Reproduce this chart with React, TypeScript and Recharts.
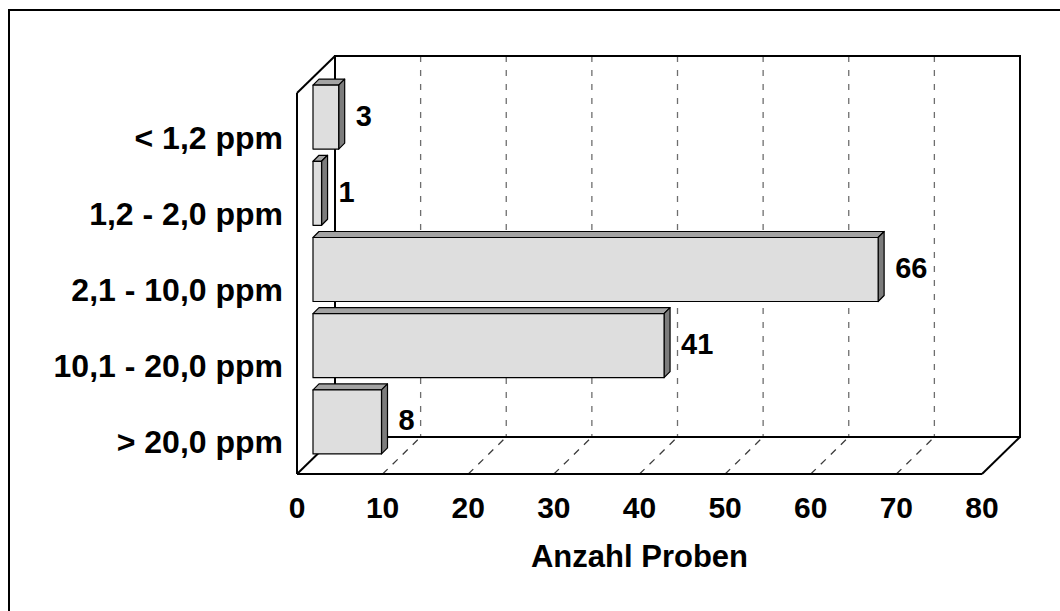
import React from "react";
import { BarChart, Bar, XAxis, YAxis, CartesianGrid, ReferenceArea } from "recharts";

const categories = ["< 1,2 ppm", "1,2 - 2,0 ppm", "2,1 - 10,0 ppm", "10,1 - 20,0 ppm", "> 20,0 ppm"];
const counts = [3, 1, 66, 41, 8];
const xTicks = [0, 10, 20, 30, 40, 50, 60, 70, 80];
const axisTitle = "Anzahl Proben";

const data = categories.map((name, i) => ({ name, value: counts[i] }));

const FONT = '"Liberation Sans", Arial, Helvetica, sans-serif';
const W = 1060;
const H = 611;
const MARGIN = { top: 93, right: 78, left: 0, bottom: 77 };
const Y_AXIS_W = 297;
const X_AXIS_H = 60;
const PLOT_LEFT = MARGIN.left + Y_AXIS_W;
const PLOT_RIGHT = W - MARGIN.right;

// 3d box depth (front plane -> back wall)
const DEPTH_X = 38;
const DEPTH_Y = -37;
// bars stand a bit behind the front plane
const BAR_DX = 16;
const BAR_DY = -14;
const BAR_DEPTH = 6;

function Box(props: any) {
  const { x, y, width, height } = props;
  const l = x;
  const r = x + width;
  const t = y;
  const b = y + height;
  return (
    <g stroke="#000" strokeWidth={2} fill="none">
      <rect x={l + DEPTH_X} y={t + DEPTH_Y} width={width} height={height} />
      <line x1={l} y1={t} x2={l} y2={b} />
      <line x1={l} y1={t} x2={l + DEPTH_X} y2={t + DEPTH_Y} />
      <line x1={l} y1={b} x2={l + DEPTH_X} y2={b + DEPTH_Y} />
      <line x1={l} y1={b} x2={r} y2={b} />
      <line x1={r} y1={b} x2={r + DEPTH_X} y2={b + DEPTH_Y} />
    </g>
  );
}

function GridLine(props: any) {
  const { x1, y1, y2, index } = props;
  const top = Math.min(y1, y2);
  const bottom = Math.max(y1, y2);
  if (x1 <= PLOT_LEFT + 1 || x1 >= PLOT_RIGHT - 1) return <g key={`g-${index}`} />;
  return (
    <g key={`g-${index}`} fill="none">
      <line
        x1={x1 + DEPTH_X}
        y1={top + DEPTH_Y}
        x2={x1 + DEPTH_X}
        y2={bottom + DEPTH_Y}
        stroke="#6e6e6e"
        strokeWidth={1.3}
        strokeDasharray="6 8"
      />
      <line
        x1={x1}
        y1={bottom}
        x2={x1 + DEPTH_X}
        y2={bottom + DEPTH_Y}
        stroke="#3c3c3c"
        strokeWidth={1.3}
        strokeDasharray="7 7"
      />
    </g>
  );
}

function Bar3D(props: any) {
  const { x, y, width, height, payload } = props;
  const fx = x + BAR_DX;
  const fy = y + BAR_DY;
  const d = BAR_DEPTH;
  return (
    <g>
      <g stroke="#000" strokeWidth={1.2} strokeLinejoin="round">
        <polygon
          points={`${fx},${fy} ${fx + d},${fy - d} ${fx + width + d},${fy - d} ${fx + width},${fy}`}
          fill="#a3a3a3"
        />
        <polygon
          points={`${fx + width},${fy} ${fx + width + d},${fy - d} ${fx + width + d},${fy + height - d} ${fx + width},${fy + height}`}
          fill="#7c7c7c"
        />
        <rect x={fx} y={fy} width={width} height={height} fill="#dedede" />
      </g>
      <text
        x={fx + width + 17}
        y={fy + height / 2 - 2}
        dy="0.36em"
        fontFamily={FONT}
        fontWeight="bold"
        fontSize={29}
        fill="#000"
      >
        {payload.value}
      </text>
    </g>
  );
}

function CategoryTick(props: any) {
  const { x, y, payload } = props;
  return (
    <text
      x={x}
      y={y + 6}
      dy="0.36em"
      textAnchor="end"
      fontFamily={FONT}
      fontWeight="bold"
      fontSize={32}
      fill="#000"
    >
      {payload.value}
    </text>
  );
}

function NumberTick(props: any) {
  const { x, y, payload } = props;
  return (
    <text
      x={x}
      y={y}
      dy="0.716em"
      textAnchor="middle"
      fontFamily={FONT}
      fontWeight="bold"
      fontSize={30}
      fill="#000"
    >
      {payload.value}
    </text>
  );
}

export default function App() {
  return (
    <div style={{ position: "absolute", left: 0, top: 0, width: W, height: H, background: "#fff" }}>
      <BarChart
        width={W}
        height={H}
        data={data}
        layout="vertical"
        margin={MARGIN}
        barCategoryGap="8%"
      >
        <CartesianGrid horizontal={false} vertical={GridLine} />
        <XAxis
          type="number"
          domain={[0, 80]}
          ticks={xTicks}
          interval={0}
          height={X_AXIS_H}
          axisLine={false}
          tickLine={false}
          tickSize={0}
          tickMargin={23}
          tick={NumberTick}
          label={{
            value: axisTitle,
            position: "bottom",
            offset: 11,
            fontSize: 31,
            fontWeight: "bold",
            fill: "#000",
            fontFamily: FONT,
          }}
        />
        <YAxis
          type="category"
          dataKey="name"
          width={Y_AXIS_W}
          axisLine={false}
          tickLine={false}
          tickSize={0}
          tickMargin={14}
          interval={0}
          tick={CategoryTick}
        />
        <ReferenceArea x1={0} x2={80} shape={Box} ifOverflow="visible" />
        <Bar dataKey="value" shape={Bar3D} isAnimationActive={false} />
      </BarChart>
      <div
        style={{
          position: "absolute",
          left: 8,
          top: 9,
          width: 1060 - 8,
          height: 611 - 9,
          borderTop: "2px solid #000",
          borderLeft: "2px solid #000",
          boxSizing: "border-box",
          pointerEvents: "none",
        }}
      />
    </div>
  );
}
